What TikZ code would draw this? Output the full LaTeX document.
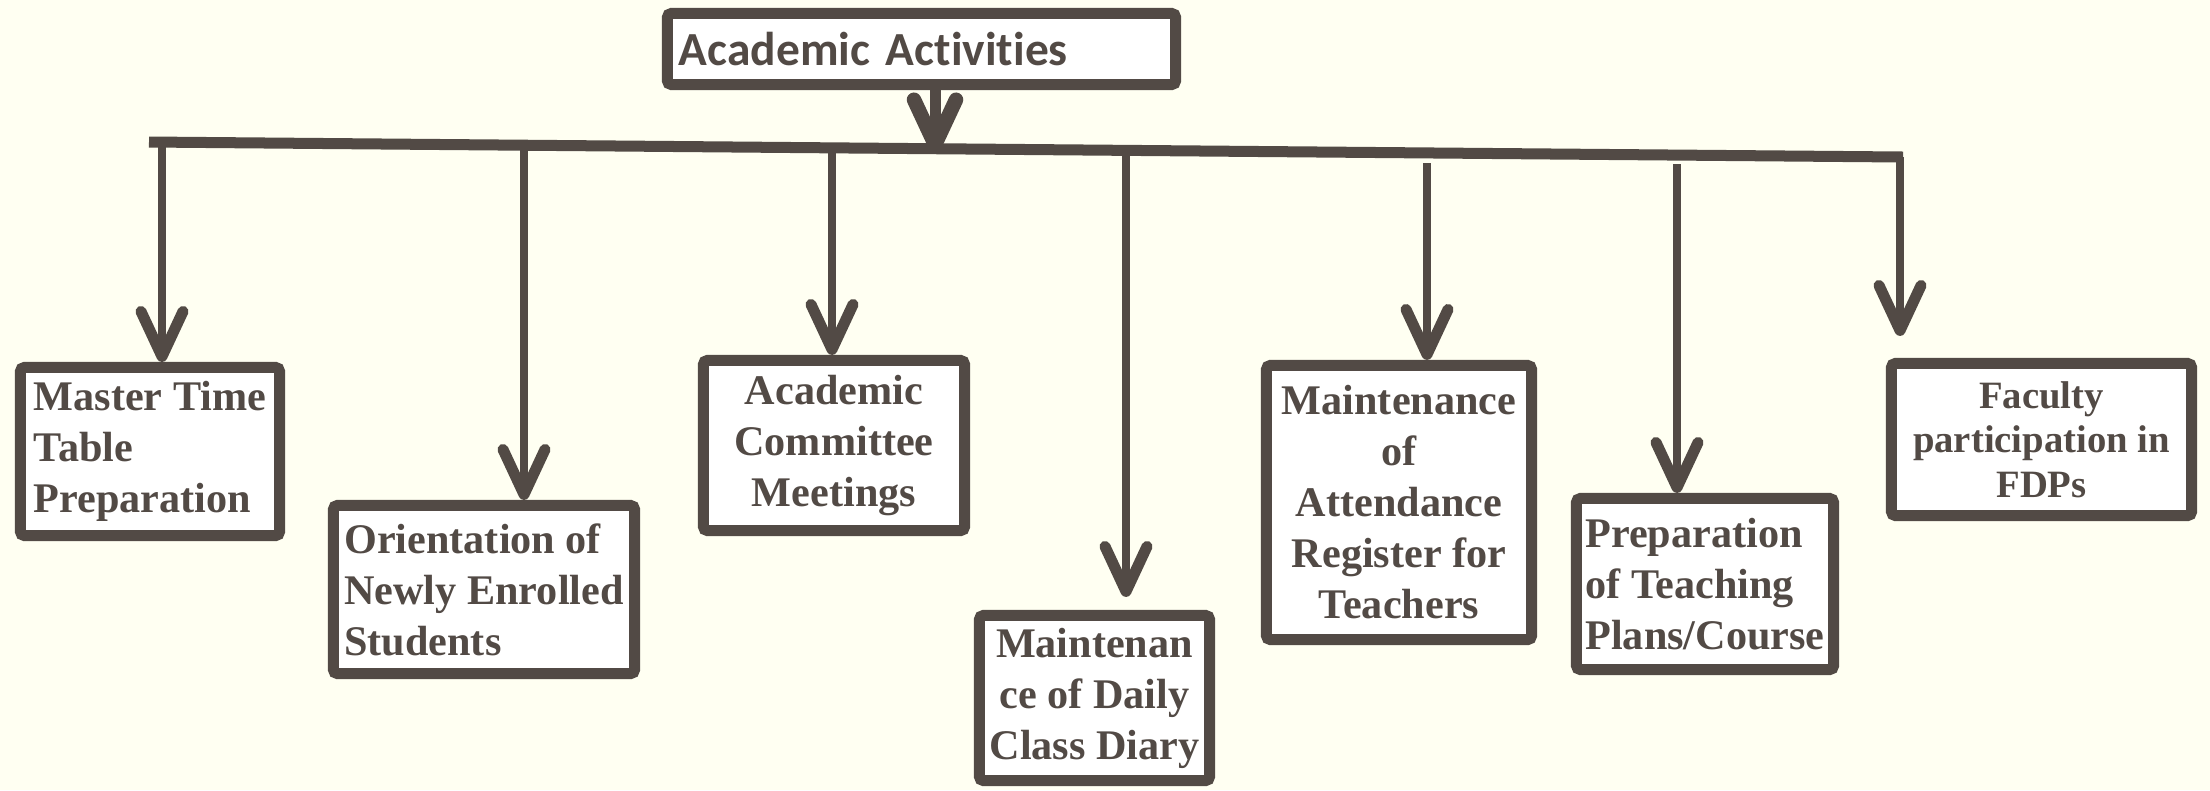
\documentclass[tikz,border=0pt]{standalone}
\usepackage{fontspec}
\setmainfont{Liberation Serif}
\newfontfamily\headfont[Ligatures=NoCommon]{Carlito}
\usetikzlibrary{arrows.meta,shadows}
\definecolor{chartline}{HTML}{524A45}
\definecolor{paper}{HTML}{FFFFF2}

\begin{document}
\begin{tikzpicture}[x=0.01cm, y=-0.01cm,
  every node/.style={font=\fontsize{12}{14.5}\selectfont\bfseries, text=chartline},
  actbox/.style={draw=chartline, line width=0.11cm, fill=white, inner sep=0pt, rounded corners=0.04cm,
    drop shadow={shadow xshift=0.02cm, shadow yshift=-0.05cm, opacity=0.2, fill=black}},
  droparrow/.style={chartline, line width=0.075cm,
    -{Straight Barb[length=0.45cm, width=0.42cm, line width=0.035cm 1, round]}}]
  % Background
  \fill[paper] (0,0) rectangle (2210,790);
  \useasboundingbox (0,0) rectangle (2210,790);

  % Top box
  \node[actbox, minimum width=5.08cm, minimum height=0.71cm, text width=4.85cm, align=left,
    font=\headfont\fontsize{13.5}{16}\selectfont\bfseries] (acad) at (921.5,49) {Academic Activities};

  % Horizontal bar
  \coordinate (barL) at (149,142);
  \coordinate (barR) at (1903,157);
  \draw[chartline, line width=0.11cm] (barL) -- (barR);
  \coordinate (hub) at (935,152);
  \draw[droparrow, line width=0.11cm] (hub |- acad.south) -- (hub);

  % Activity boxes
  \node[actbox, minimum width=2.59cm, minimum height=1.68cm, align=left] (mt) at (150,451.5)
    {Master Time\\Table\\Preparation};
  \node[actbox, minimum width=3.01cm, minimum height=1.68cm, align=left] (orient) at (484,589.5)
    {Orientation of\\Newly Enrolled\\Students};
  \node[actbox, minimum width=2.61cm, minimum height=1.70cm, align=center] (comm) at (834,445.5)
    {Academic\\Committee\\Meetings};
  \node[actbox, minimum width=2.30cm, minimum height=1.65cm, align=center] (diary) at (1094.5,698)
    {Maintenan\\ce of Daily\\Class Diary};
  \node[actbox, minimum width=2.65cm, minimum height=2.74cm, align=center] (attend) at (1399,502.5)
    {Maintenance\\of\\Attendance\\Register for\\Teachers};
  \node[actbox, minimum width=2.57cm, minimum height=1.71cm, align=left] (plans) at (1705,584)
    {Preparation\\of Teaching\\Plans/Course};
  \node[actbox, minimum width=3.00cm, minimum height=1.52cm, align=center,
    font=\fontsize{11}{12.6}\selectfont\bfseries] (fdp) at (2041.5,439.5)
    {Faculty\\participation in\\FDPs};

  % Drop lines
  \coordinate (s1) at (162,142);
  \coordinate (s2) at (524,150);
  \coordinate (s3) at (832,150);
  \coordinate (s4) at (1126,153);
  \coordinate (s5) at (1427,163);
  \coordinate (s6) at (1677,164);
  \coordinate (s7) at (1900,157);
  \draw[droparrow] (s1) -- (s1 |- mt.north);
  \draw[droparrow] (s2) -- (s2 |- orient.north);
  \draw[droparrow] (s3) -- (s3 |- comm.north);
  \draw[droparrow, shorten >=0.13cm] (s4) -- (s4 |- diary.north);
  \draw[droparrow] (s5) -- (s5 |- attend.north);
  \draw[droparrow] (s6) -- (s6 |- plans.north);
  \draw[droparrow, shorten >=0.22cm] (s7) -- (s7 |- fdp.north);
\end{tikzpicture}
\end{document}
